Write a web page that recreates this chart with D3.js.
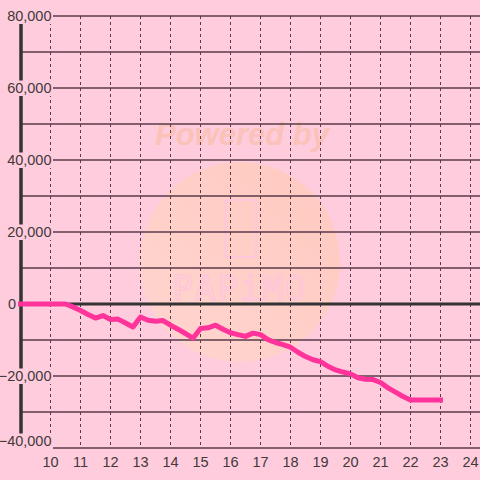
<!DOCTYPE html>
<html><head><meta charset="utf-8">
<script src="https://cdn.jsdelivr.net/npm/d3@7"></script>
<style>html,body{margin:0;padding:0;background:#ffccdd;}svg{display:block;}</style>
</head><body>
<script>
const hours = [9.0, 10.5, 10.75, 11.0, 11.25, 11.5, 11.75, 12.0, 12.25, 12.5, 12.75, 13.0, 13.25, 13.5, 13.75, 14.0, 14.25, 14.5, 14.75, 15.0, 15.25, 15.5, 15.75, 16.0, 16.25, 16.5, 16.75, 17.0, 17.25, 17.5, 17.75, 18.0, 18.25, 18.5, 18.75, 19.0, 19.25, 19.5, 19.75, 20.0, 20.25, 20.5, 20.75, 21.0, 21.25, 21.5, 21.75, 22.0, 22.5, 23.0];
const values = [0, 0, -800, -1800, -2900, -3900, -3200, -4300, -4200, -5300, -6400, -3600, -4500, -4800, -4600, -5900, -7000, -8200, -9500, -6800, -6600, -5900, -7000, -8000, -8500, -9000, -8100, -8500, -9900, -10700, -11300, -12000, -13400, -14600, -15500, -16000, -17300, -18300, -18900, -19400, -20500, -20900, -21000, -21800, -23300, -24500, -25700, -26700, -26700, -26700];
const xTicks = [10, 11, 12, 13, 14, 15, 16, 17, 18, 19, 20, 21, 22, 23, 24];
const yGrid = [-40000, -30000, -20000, -10000, 0, 10000, 20000, 30000, 40000, 50000, 60000, 70000, 80000];
const yLabels = [-40000, -20000, 0, 20000, 40000, 60000, 80000];

const W = 480, H = 480;
const svg = d3.select("body").append("svg").attr("width", W).attr("height", H);
svg.append("rect").attr("width", W).attr("height", H).attr("fill", "#ffccdd");

const x = d3.scaleLinear().domain([9, 25]).range([20.5, 500.5]);
const y = d3.scaleLinear().domain([-40000, 80000]).range([448, 16]);

// watermark
const grad = svg.append("defs").append("linearGradient").attr("id", "wm")
  .attr("x1", "0").attr("y1", "1").attr("x2", "1").attr("y2", "0");
grad.append("stop").attr("offset", "0").attr("stop-color", "#ffd8cc");
grad.append("stop").attr("offset", "1").attr("stop-color", "#ffc8b8");
svg.append("circle").attr("cx", 240).attr("cy", 262).attr("r", 100)
  .attr("fill", "url(#wm)").attr("opacity", 0.8);
svg.append("text").attr("x", 242).attr("y", 145).attr("text-anchor", "middle")
  .attr("font-family", "Liberation Sans, Arial, sans-serif").attr("font-size", 31)
  .attr("font-weight", "bold").attr("font-style", "italic")
  .attr("fill", "#fac2b4").attr("opacity", 0.9).text("Powered by");
svg.append("rect").attr("x", 225).attr("y", 200).attr("width", 31).attr("height", 57).attr("rx", 3)
  .attr("fill", "none").attr("stroke", "#ffc6dc").attr("stroke-width", 2);
svg.append("text").attr("x", 240).attr("y", 300).attr("text-anchor", "middle")
  .attr("font-family", "DejaVu Sans Mono, monospace").attr("font-size", 34)
  .attr("fill", "none").attr("stroke", "#ffc6dc").attr("stroke-width", 1.5)
  .attr("letter-spacing", 2).text("PAPiMO");

// horizontal grid
svg.append("g").selectAll("line").data(yGrid.filter(d => d !== 0)).join("line")
  .attr("x1", 21).attr("x2", W).attr("y1", d => y(d)).attr("y2", d => y(d))
  .attr("stroke", "#5a3a4a").attr("stroke-width", 1.5);

// vertical dashed grid
svg.append("g").selectAll("line").data(xTicks).join("line")
  .attr("x1", d => x(d)).attr("x2", d => x(d)).attr("y1", 16).attr("y2", 448)
  .attr("stroke", "#5a3a4a").attr("stroke-width", 1).attr("stroke-dasharray", "3,3");

// zero line
svg.append("line").attr("x1", 21).attr("x2", W).attr("y1", y(0)).attr("y2", y(0))
  .attr("stroke", "#333", ).attr("stroke-width", 3);

// left axis
svg.append("line").attr("x1", 21).attr("x2", 21).attr("y1", 16).attr("y2", 448)
  .attr("stroke", "#333").attr("stroke-width", 3.5);

// y labels with tight background
const ly = d => Math.min(y(d), 441);
const yl = svg.append("g").selectAll("g").data(yLabels).join("g");
const bg = yl.append("rect").attr("fill", "#ffccdd");
const yt = yl.append("text").attr("x", d => d === 0 ? 16 : 51.5).attr("y", d => ly(d)).attr("dy", "0.36em")
  .attr("text-anchor", "end").attr("font-family", "Liberation Sans, Arial, sans-serif")
  .attr("font-size", 14.5).attr("fill", "#443838").text(d => d3.format(",")(d));
yt.each(function(d, i) {
  const b = this.getBBox();
  d3.select(bg.nodes()[i]).attr("x", b.x - 1).attr("y", ly(d) - 7.5)
    .attr("width", b.width + 2.5).attr("height", d === -40000 ? 19 : 15.5);
});

// x labels
svg.append("g").selectAll("text").data(xTicks).join("text")
  .attr("x", d => x(d)).attr("y", 462).attr("dy", "0.36em").attr("text-anchor", "middle")
  .attr("font-family", "Liberation Sans, Arial, sans-serif").attr("font-size", 14.5)
  .attr("fill", "#443838").text(d => d);

// data line
const line = d3.line().x((d, i) => x(hours[i])).y(d => y(d));
svg.append("path").datum(values).attr("d", line).attr("fill", "none")
  .attr("stroke", "#ff3399").attr("stroke-width", 5).attr("stroke-linejoin", "round")
  .attr("stroke-linecap", "square");
</script>
</body></html>
